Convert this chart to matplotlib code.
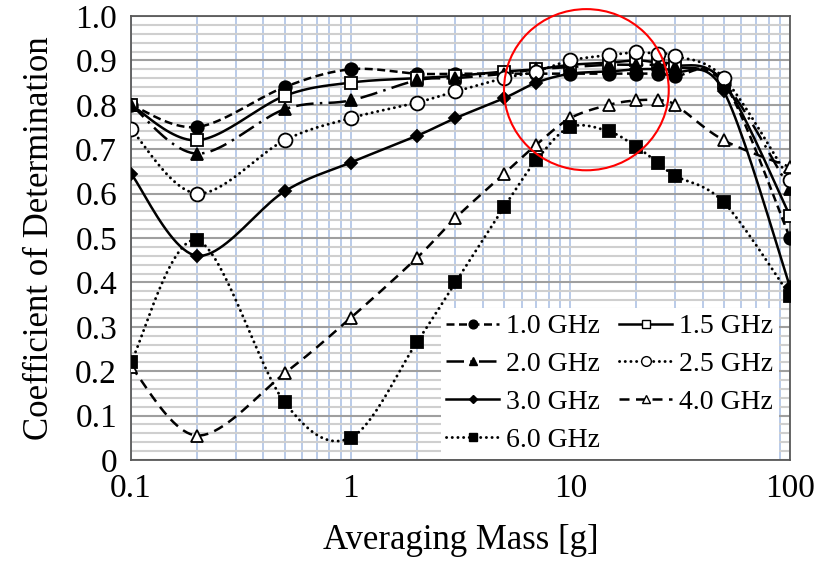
import numpy as np
import matplotlib
matplotlib.use("Agg")
import matplotlib.pyplot as plt
from matplotlib.lines import Line2D
from matplotlib.patches import Ellipse

plt.rcParams['font.family'] = ['Liberation Serif', 'DejaVu Serif']

# averaging mass [g]
mass = [0.1, 0.2, 0.5, 1, 2, 3, 5, 7, 10, 15, 20, 25, 30, 50, 100]

r2_10 = [0.80, 0.75, 0.84, 0.88, 0.87, 0.87, 0.87, 0.87, 0.87, 0.87, 0.87, 0.87, 0.865, 0.85, 0.50]
r2_15 = [0.80, 0.72, 0.82, 0.85, 0.86, 0.865, 0.875, 0.88, 0.89, 0.895, 0.90, 0.895, 0.89, 0.85, 0.55]
r2_20 = [0.80, 0.69, 0.79, 0.81, 0.855, 0.86, 0.87, 0.88, 0.885, 0.89, 0.89, 0.89, 0.885, 0.85, 0.61]
r2_25 = [0.745, 0.60, 0.72, 0.77, 0.805, 0.83, 0.86, 0.875, 0.90, 0.912, 0.918, 0.915, 0.91, 0.86, 0.63]
r2_30 = [0.645, 0.46, 0.605, 0.67, 0.73, 0.77, 0.815, 0.85, 0.87, 0.875, 0.88, 0.88, 0.875, 0.83, 0.39]
r2_40 = [0.21, 0.055, 0.195, 0.32, 0.455, 0.545, 0.645, 0.71, 0.77, 0.80, 0.81, 0.81, 0.80, 0.72, 0.66]
r2_60 = [0.22, 0.495, 0.13, 0.05, 0.265, 0.40, 0.57, 0.675, 0.75, 0.74, 0.705, 0.67, 0.64, 0.58, 0.37]

labels = ["1.0 GHz", "1.5 GHz", "2.0 GHz", "2.5 GHz", "3.0 GHz", "4.0 GHz", "6.0 GHz"]
series = [r2_10, r2_15, r2_20, r2_25, r2_30, r2_40, r2_60]

# line style per series: (dashes, marker, marker face, marker size, line width)
styles = [
    ((3.2, 1.8), 'o', 'black', 9, 1.8),
    (None, 's', 'white', 9, 1.8),
    ((7, 2.5, 1, 2.5), '^', 'black', 9, 1.8),
    ((0.05, 1.9), 'o', 'white', 10, 2.1),
    (None, 'D', 'black', 6.5, 1.8),
    ((4, 2.6), '^', 'white', 8.5, 1.8),
    ((0.05, 1.9), 's', 'black', 9, 2.1),
]

fig = plt.figure(figsize=(8.26, 5.62), dpi=100)
ax = fig.add_axes([131 / 826, 1 - 460 / 562, 659 / 826, 444 / 562])
ax.set_xscale('log')
ax.set_xlim(0.1, 100)
ax.set_ylim(0, 1.0)

# pixel scale of one decade and of one unit of R^2 (to smooth like Excel does on screen)
sx = 659 / 3.0
sy = 444.0


def smooth(xs, ys, n=24):
    # Catmull-Rom -> Bezier smoothing in screen space
    p = np.column_stack([np.log10(xs) * sx, np.array(ys) * sy])
    p = np.vstack([p[0], p, p[-1]])
    out = []
    t = np.linspace(0, 1, n)[:, None]
    for i in range(1, len(p) - 2):
        p0, p1, p2, p3 = p[i - 1], p[i], p[i + 1], p[i + 2]
        c1 = p1 + (p2 - p0) / 6
        c2 = p2 - (p3 - p1) / 6
        seg = ((1 - t) ** 3) * p1 + 3 * ((1 - t) ** 2) * t * c1 + 3 * (1 - t) * t ** 2 * c2 + t ** 3 * p2
        out.append(seg if i == 1 else seg[1:])
    out = np.vstack(out)
    return 10 ** (out[:, 0] / sx), out[:, 1] / sy


handles = []
for k, (ys, lab, st) in enumerate(zip(series, labels, styles)):
    dashes, mk, mfc, ms, lw = st
    sxv, syv = smooth(mass, ys)
    ln, = ax.plot(sxv, syv, color='black', lw=lw, zorder=3 + k, solid_capstyle='butt')
    if dashes is not None:
        ln.set_dashes(dashes)
        if dashes[0] < 0.5:
            ln.set_dash_capstyle('round')
    ax.plot(mass, ys, ls='none', marker=mk, ms=ms, mfc=mfc, mec='black', mew=1.3, zorder=3 + k)
    h = Line2D([], [], color='black', lw=lw, marker=mk, ms=ms * 0.7, mfc=mfc, mec='black', mew=1.0)
    if dashes is not None:
        h.set_dashes(dashes)
        if dashes[0] < 0.5:
            h.set_dash_capstyle('round')
    handles.append(h)

# grid
ax.set_yticks(np.arange(0, 1.01, 0.1))
ax.set_yticks(np.arange(0, 1.001, 0.02), minor=True)
ax.grid(True, which='major', axis='y', color='#9f9f9f', lw=1.5, zorder=0)
ax.grid(True, which='minor', axis='y', color='#cfcfcf', lw=1.5, zorder=0)
ax.grid(True, which='both', axis='x', color='#b4c7e7', lw=1.3, zorder=0)
ax.set_axisbelow(True)

ax.set_xticks([0.1, 1, 10, 100])
ax.set_xticklabels(["0.1", "1", "10", "100"])
ax.set_yticklabels(["0"] + ["%.1f" % v for v in np.arange(0.1, 1.01, 0.1)])
ax.tick_params(which='both', length=0, labelsize=24, pad=10)

for s in ax.spines.values():
    s.set_color('#595959')
    s.set_linewidth(1.3)

ax.set_xlabel("Averaging Mass [g]", fontsize=25, labelpad=14)
ax.set_ylabel("Coefficient of Determination", fontsize=25, labelpad=14)

# Excel fills the legend row by row
order = [0, 2, 4, 6, 1, 3, 5]
leg = ax.legend([handles[i] for i in order], [labels[i] for i in order], ncol=2,
                loc='lower right', bbox_to_anchor=(0.985, 0.0),
                fontsize=20, frameon=True, fancybox=False, framealpha=1,
                edgecolor='none', facecolor='white', handlelength=1.9,
                handletextpad=0.25, columnspacing=0.7, labelspacing=0.45,
                borderpad=0.2, borderaxespad=0.05)
leg.set_zorder(20)

# highlight circle
circ = Ellipse((0.691, 0.834), 0.25, 0.363, transform=ax.transAxes,
               fill=False, edgecolor='red', lw=1.5, clip_on=False, zorder=30)
ax.add_patch(circ)

fig.savefig("out.png", dpi=100)
